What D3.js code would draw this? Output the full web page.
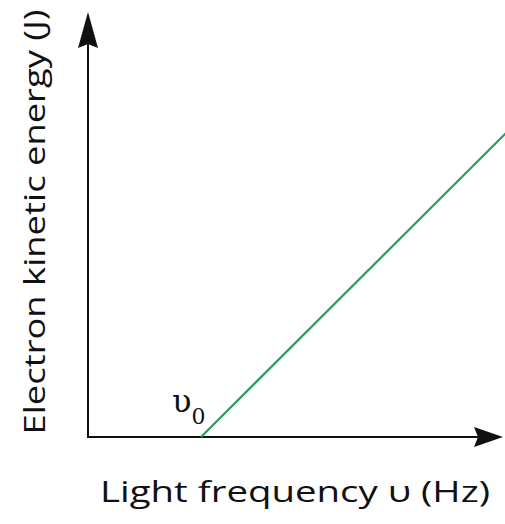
<!DOCTYPE html>
<html>
<head>
<meta charset="utf-8">
<script src="https://cdn.jsdelivr.net/npm/d3@7"></script>
<style>
    body { margin: 0; background: #fff; }
    text { font-family: "Open Sans", Lato, sans-serif; fill: #111; }
</style>
</head>
<body>
<svg id="drawing_region"></svg>
<script>
// threshold frequency and the straight-line response (arbitrary units)
const frequency = [1.13, 4.25];
const energy = [0, 3.11];
const threshold_label = 'υ';
const threshold_sub = '0';
const x_label = 'Light frequency υ (Hz)';
const y_label = 'Electron kinetic energy (J)';

const width = 505, height = 524;
const margin = {top: 12, right: 2, bottom: 87, left: 88};

let svg = d3.select('#drawing_region')
    .attr('width', width)
    .attr('height', height);

let xscale = d3.scaleLinear()
    .domain([0, 4.15])
    .range([margin.left, width - margin.right]);

let yscale = d3.scaleLinear()
    .domain([0, 4.25])
    .range([height - margin.bottom, margin.top]);

let x0 = xscale(0), y0 = yscale(0);

// Draw the axes (plain lines with arrowheads)
svg.append('line')
    .attr('x1', x0).attr('y1', y0 + 1)
    .attr('x2', x0).attr('y2', yscale(4.25) + 20)
    .attr('stroke', '#111').attr('stroke-width', 2);

svg.append('line')
    .attr('x1', x0 - 1).attr('y1', y0)
    .attr('x2', xscale(4.15) - 20).attr('y2', y0)
    .attr('stroke', '#111').attr('stroke-width', 2);

// vertical arrowhead
let ty = yscale(4.25);
svg.append('path')
    .attr('d', `M${x0},${ty} L${x0 + 10},${ty + 36} L${x0},${ty + 32} L${x0 - 10},${ty + 36} Z`)
    .attr('fill', '#111');

// horizontal arrowhead
let tx = xscale(4.15);
svg.append('path')
    .attr('d', `M${tx},${y0} L${tx - 29},${y0 + 10} L${tx - 25},${y0} L${tx - 29},${y0 - 10} Z`)
    .attr('fill', '#111');

// the line
let line = d3.line()
    .x((d, i) => xscale(frequency[i]))
    .y(d => yscale(d));

svg.append('path')
    .attr('d', line(energy))
    .attr('fill', 'none')
    .attr('stroke', '#2a9d5c')
    .attr('stroke-width', 2.2);

// threshold label
let lab = svg.append('text')
    .attr('x', xscale(frequency[0]) - 29)
    .attr('y', y0 - 25)
    .style('font-family', '"DejaVu Serif", "Liberation Serif", serif')
    .style('font-size', '32px');
lab.append('tspan').text(threshold_label);
lab.append('tspan')
    .attr('dy', 12)
    .style('font-size', '22px')
    .text(threshold_sub);

// axis titles
svg.append('text')
    .attr('x', 295)
    .attr('y', 502)
    .attr('text-anchor', 'middle')
    .attr('textLength', 390)
    .attr('lengthAdjust', 'spacingAndGlyphs')
    .style('font-size', '30px')
    .text(x_label);

svg.append('text')
    .attr('transform', `translate(45, 222) rotate(-90)`)
    .attr('text-anchor', 'middle')
    .attr('textLength', 425)
    .attr('lengthAdjust', 'spacingAndGlyphs')
    .style('font-size', '29px')
    .text(y_label);
</script>
</body>
</html>
